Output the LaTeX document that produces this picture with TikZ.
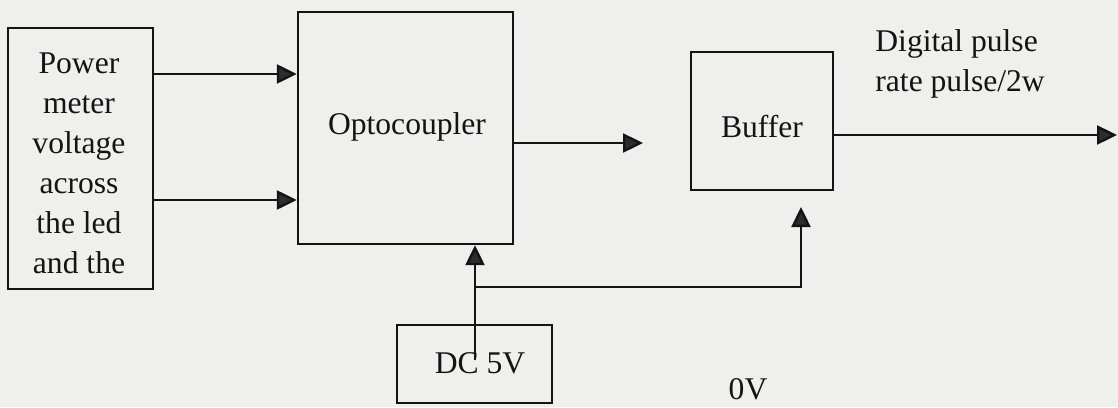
\documentclass[tikz,border=0pt]{standalone}
\usepackage{fontspec}
\setmainfont{Liberation Serif}
\usetikzlibrary{arrows.meta}
\definecolor{bgc}{RGB}{239,239,237}
\definecolor{ink}{RGB}{20,20,20}
\definecolor{tipc}{RGB}{45,45,45}
\begin{document}
\begin{tikzpicture}[x=0.5pt,y=-0.5pt,
  blk/.style={draw=ink,line width=1.2pt,inner sep=0pt},
  lbl/.style={inner sep=0pt,align=center,font=\fontsize{15.8}{20}\selectfont,text=ink},
  arr/.style={draw=ink,line width=1.2pt,-{Triangle[length=10pt,width=9.5pt,fill=tipc]}}]
\fill[bgc] (0,0) rectangle (1118,407);
\useasboundingbox (0,0) rectangle (1118,407);

\node[blk,minimum width=72.5pt,minimum height=130.5pt] (pm) at (80.5,158.5) {};
\node[lbl] (pmt) at (79,163) {Power\\meter\\voltage\\across\\the led\\and the};
\node[blk,minimum width=107.5pt,minimum height=116pt] (opto) at (405.5,128) {};
\node[lbl] (optot) at (407,127) {Optocoupler};
\node[blk,minimum width=71pt,minimum height=69pt] (buf) at (762,121) {};
\node[lbl] (buft) at (762,127) {Buffer};
\node[blk,minimum width=77.5pt,minimum height=39pt] (dc) at (474.5,364) {};
\node[lbl] (dct) at (480,363) {DC 5V};
\node[lbl,anchor=west,align=left] (dig) at (875,64) {Digital pulse\\rate pulse/2w};
\node[lbl] (zv) at (748,389) {0V};

\coordinate (a1) at (0,74);
\coordinate (a2) at (0,200);
\draw[arr] (pm.east |- a1) -- (opto.west |- a1);
\draw[arr] (pm.east |- a2) -- (opto.west |- a2);

\coordinate (oo) at (643,143);
\draw[arr] (opto.east |- oo) -- (oo);

\coordinate (out) at (1117,135);
\draw[arr] (buf.east |- out) -- (out);

\coordinate (dcin) at (475,360);
\coordinate (jn) at (475,287);
\coordinate (bt) at (801,207);
\draw[arr] (dcin) -- (dcin |- opto.south);
\draw[arr] (jn) -| (bt);
\end{tikzpicture}
\end{document}
